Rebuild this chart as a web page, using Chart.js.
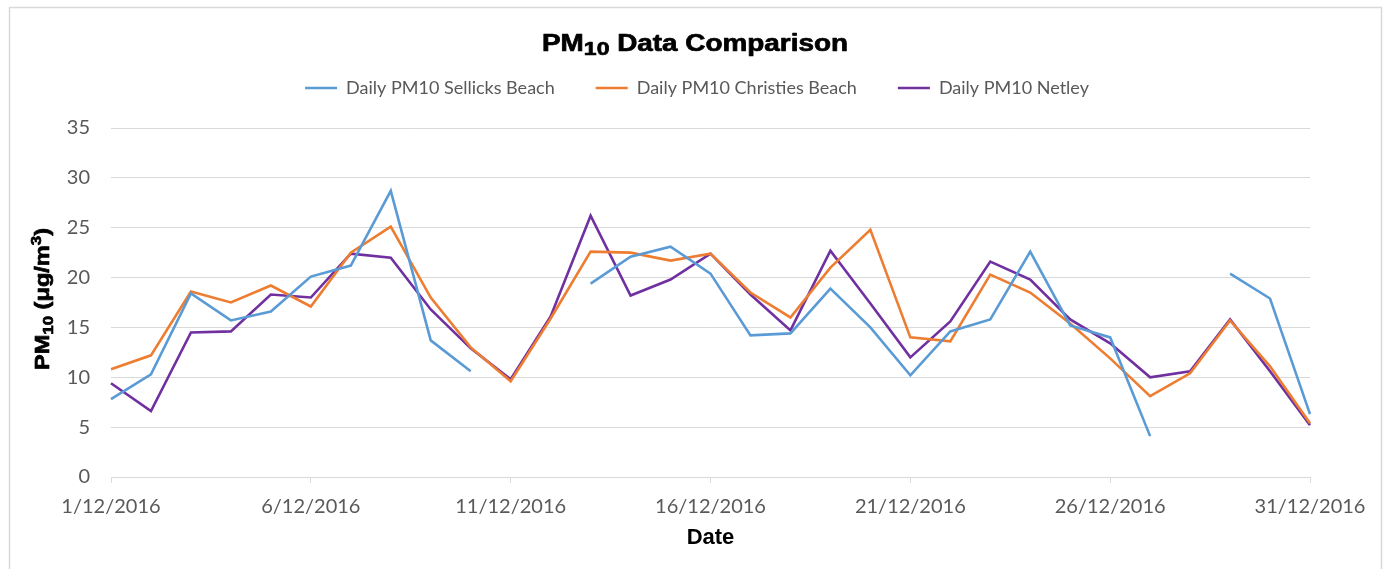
<!DOCTYPE html>
<html><head><meta charset="utf-8">
<script src="https://cdn.jsdelivr.net/npm/chart.js@4/dist/chart.umd.min.js"></script>
<style>html,body{margin:0;padding:0;background:#fff}#wrap{width:1392px;height:569px}</style>
</head><body><div id="wrap"><canvas id="c" width="1392" height="569"></canvas></div>
<script>
const dates = ['1/12/2016','2/12/2016','3/12/2016','4/12/2016','5/12/2016','6/12/2016','7/12/2016','8/12/2016','9/12/2016','10/12/2016',
  '11/12/2016','12/12/2016','13/12/2016','14/12/2016','15/12/2016','16/12/2016','17/12/2016','18/12/2016','19/12/2016','20/12/2016',
  '21/12/2016','22/12/2016','23/12/2016','24/12/2016','25/12/2016','26/12/2016','27/12/2016','28/12/2016','29/12/2016','30/12/2016','31/12/2016'];
const sellicks  = [7.8,10.3,18.4,15.7,16.6,20.1,21.2,28.7,13.7,10.6,null,null,19.4,22.1,23.1,20.4,14.2,14.4,18.9,15.0,10.2,14.6,15.8,22.6,15.2,14.0,4.1,null,20.4,17.9,6.3];
const christies = [10.8,12.2,18.6,17.5,19.2,17.1,22.5,25.1,18.0,13.0,9.6,15.9,22.6,22.5,21.7,22.4,18.5,16.0,21.0,24.8,14.0,13.6,20.3,18.5,15.4,11.9,8.1,10.4,15.7,11.1,5.4];
const netley    = [9.4,6.6,14.5,14.6,18.3,18.0,22.4,22.0,16.8,12.9,9.8,16.1,26.2,18.2,19.8,22.4,18.3,14.7,22.7,17.4,12.0,15.6,21.6,19.8,15.8,13.4,10.0,10.6,15.8,10.6,5.2];
const seriesNames = ['Daily PM10 Sellicks Beach','Daily PM10 Christies Beach','Daily PM10 Netley'];
const yMin = 0, yMax = 35, yStep = 5;
const tickEvery = 5;

function drawRich(ctx, parts, cx, baseY, targetW, rotate) {
  ctx.save();
  let nat = 0;
  parts.forEach(p => { ctx.font = p.font; p.w = ctx.measureText(p.t).width; nat += p.w; });
  const sx = targetW / nat;
  ctx.translate(cx, baseY);
  if (rotate) ctx.rotate(-Math.PI / 2);
  ctx.scale(sx, 1);
  ctx.fillStyle = '#000';
  ctx.strokeStyle = '#000';
  ctx.lineWidth = 0.7;
  ctx.lineJoin = 'round';
  ctx.textBaseline = 'alphabetic';
  ctx.textAlign = 'left';
  let x = -nat / 2;
  parts.forEach(p => { ctx.font = p.font; ctx.fillText(p.t, x, p.dy || 0); ctx.strokeText(p.t, x, p.dy || 0); x += p.w; });
  ctx.restore();
}

const decor = {
  id: 'decor',
  afterInit(chart) {
    const lg = chart.legend;
    if (lg) {
      const orig = lg.fit.bind(lg);
      lg.fit = function () { orig(); this.height += 21; };
    }
  },
  afterLayout(chart) {
    const lg = chart.legend;
    if (lg) { lg.left += 42; lg.right += 42; }
  },
  beforeDraw(chart) {
    const ctx = chart.ctx;
    ctx.save();
    ctx.fillStyle = '#fff';
    ctx.fillRect(0, 0, chart.width, chart.height);
    ctx.strokeStyle = '#d9d9d9';
    ctx.lineWidth = 1.5;
    ctx.beginPath();
    ctx.moveTo(9.5, 569); ctx.lineTo(9.5, 7.5); ctx.lineTo(1381.5, 7.5); ctx.lineTo(1381.5, 569);
    ctx.stroke();
    ctx.restore();
  },
  afterDraw(chart) {
    const ctx = chart.ctx;
    const B = 'bold 23px "Liberation Sans", Arial, sans-serif';
    const S = 'bold 19px "Liberation Sans", Arial, sans-serif';
    drawRich(ctx, [
      {t: 'PM', font: B}, {t: '10', font: S, dy: 4.5}, {t: ' Data Comparison', font: B}
    ], 695, 50.7, 306, false);
    const YB = 'bold 21px "Liberation Sans", Arial, sans-serif';
    const YS = 'bold 15px "Liberation Sans", Arial, sans-serif';
    drawRich(ctx, [
      {t: 'PM', font: YB}, {t: '10', font: YS, dy: 4}, {t: ' (μg/m', font: YB}, {t: '3', font: YS, dy: -8}, {t: ')', font: YB}
    ], 49.3, 299, 142, true);
  }
};

const colors = ['#5B9BD5', '#ED7D31', '#7030A0'];
const seriesData = [sellicks, christies, netley];

new Chart(document.getElementById('c'), {
  type: 'line',
  data: {
    labels: dates,
    datasets: seriesData.map((d, i) => ({
      label: seriesNames[i], data: d, borderColor: colors[i], backgroundColor: colors[i],
      borderWidth: 2.6, pointRadius: 0, pointHoverRadius: 0, tension: 0, spanGaps: false, fill: false
    }))
  },
  options: {
    responsive: false, animation: false, devicePixelRatio: 1,
    layout: { padding: { left: 0, right: 82, top: 38, bottom: 0 } },
    plugins: {
      title: { display: false },
      tooltip: { enabled: false },
      legend: {
        position: 'top',
        labels: {
          usePointStyle: true, pointStyle: 'line', pointStyleWidth: 32,
          font: { family: 'Lato', size: 18 }, color: '#595959', padding: 41
        }
      }
    },
    scales: {
      x: {
        type: 'category', offset: false,
        grid: {
          display: true, drawOnChartArea: false, drawTicks: true, tickLength: 6, lineWidth: 1,
          color: c => (c.index % tickEvery === 0 ? '#d9d9d9' : 'rgba(0,0,0,0)')
        },
        border: { display: true, color: '#d9d9d9', width: 1 },
        ticks: {
          autoSkip: false, maxRotation: 0, minRotation: 0, color: '#595959',
          font: { family: 'Lato', size: 20 }, padding: 12,
          callback: (v, i) => (i % tickEvery === 0 ? dates[i] : '')
        },
        title: {
          display: true, text: 'Date', color: '#000',
          font: { family: '"Liberation Sans", Arial, sans-serif', weight: 'bold', size: 22 },
          padding: { top: 0, bottom: 18 }
        },
        afterFit: s => { s.height = 92; }
      },
      y: {
        min: yMin, max: yMax,
        ticks: { stepSize: yStep, color: '#595959', font: { family: 'Lato', size: 20 }, padding: 21 },
        grid: { color: '#d9d9d9', drawTicks: false, lineWidth: 1 },
        border: { display: false },
        afterFit: s => { s.width = 111; }
      }
    }
  },
  plugins: [decor]
});
</script>
</body></html>
